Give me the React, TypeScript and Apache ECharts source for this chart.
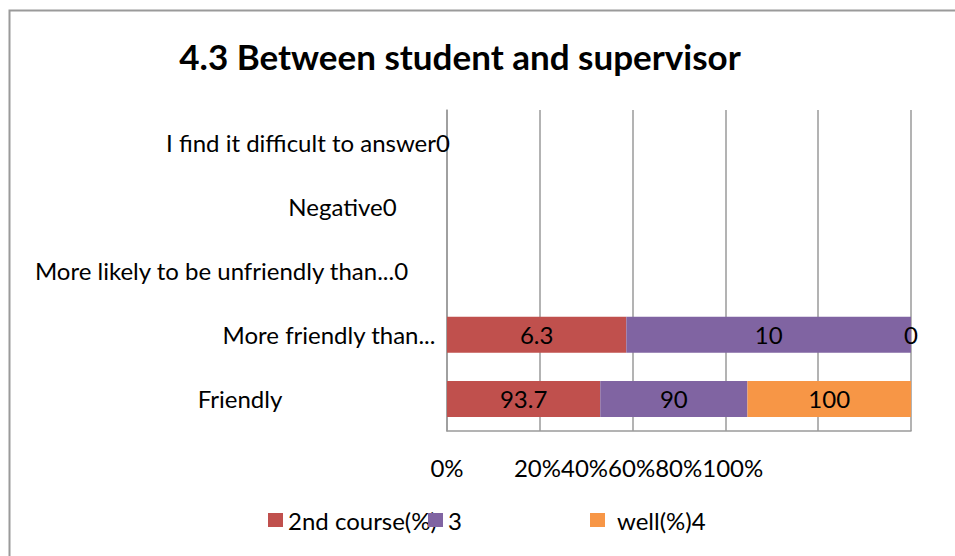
import React, { useEffect, useRef } from "react";
import * as echarts from "echarts";

// ---- data (bottom to top) ----
const categories = [
  "Friendly",
  "More friendly than...",
  "More likely to be unfriendly than...0",
  "Negative0",
  "I find it difficult to answer0",
];
const seriesNames = ["2nd course(%)", "3", "well(%)4"];
const course2 = [93.7, 6.3, 0, 0, 0];
const course3 = [90, 10, 0, 0, 0];
const well4 = [100, 0, 0, 0, 0];
const xTickLabels = ["0%", "20%", "40%", "60%", "80%", "100%"];

// ---- layout / style (kept apart from the data) ----
const colors = ["#C0504D", "#8064A2", "#F79646"];
const labelBoxWidths = [414, 236, 451, 209, 278];
const legendLefts = [268, 428, 590];
const legendTextPad = [0, 0, 7];
const FONT = "Lato";
const FS = 24;
const GRAY = "#9a9a9a";

export default function App() {
  const ref = useRef<HTMLDivElement>(null);

  useEffect(() => {
    document.body.style.margin = "0";
    if (!ref.current) return;
    const chart = echarts.init(ref.current, undefined, { renderer: "svg" });

    const raw = [course2, course3, well4];
    const totals = categories.map((_, i) => raw.reduce((s, arr) => s + arr[i], 0));

    const rich: Record<string, any> = {};
    labelBoxWidths.forEach((w, i) => {
      rich["c" + i] = { width: w, align: "center", fontSize: FS, fontFamily: FONT, color: "#000" };
    });

    const series = raw.map((arr, si) => ({
      name: seriesNames[si],
      type: "bar",
      stack: "total",
      barWidth: 36,
      itemStyle: { color: colors[si] },
      data: arr.map((v, i) => ({
        value: totals[i] > 0 ? (v / totals[i]) * 100 : 0,
        raw: v,
        label: { show: totals[i] > 0 },
      })),
      label: {
        show: true,
        position: "inside",
        color: "#000",
        fontSize: FS,
        fontFamily: FONT,
        formatter: (p: any) => String(p.data.raw),
      },
    }));

    chart.setOption({
      animation: false,
      title: {
        text: "4.3 Between student and supervisor",
        left: 455,
        top: 33,
        textAlign: "center",
        textStyle: { fontSize: 35, fontWeight: "bold", fontFamily: FONT, color: "#000" },
      },
      legend: seriesNames.map((n, i) => ({
        data: [n],
        left: legendLefts[i],
        top: 508,
        icon: "rect",
        itemWidth: 15,
        itemHeight: 14,
        padding: 0,
        selectedMode: false,
        textStyle: {
          fontSize: FS,
          fontFamily: FONT,
          color: "#000",
          padding: [0, 0, 0, legendTextPad[i]],
        },
      })),
      grid: { left: 447, right: 44, top: 110, bottom: 125, containLabel: false },
      xAxis: {
        type: "value",
        min: 0,
        max: 100,
        interval: 20,
        axisLine: { show: true, lineStyle: { color: GRAY, width: 1.5 } },
        axisTick: { show: false },
        splitLine: { show: true, lineStyle: { color: GRAY, width: 1.5 } },
        axisLabel: {
          margin: 24,
          color: "#000",
          fontSize: FS,
          fontFamily: FONT,
          formatter: (v: number) => {
            if (v === 0) return xTickLabels[0];
            if (v === 40) return "{s|" + xTickLabels.slice(1).join("") + "}";
            return "";
          },
          rich: { s: { padding: [0, 0, 0, 12], fontSize: FS, fontFamily: FONT, color: "#000" } },
        },
      },
      yAxis: {
        type: "category",
        data: categories,
        axisLine: { show: true, lineStyle: { color: GRAY, width: 1.5 } },
        axisTick: { show: false },
        splitLine: { show: false },
        axisLabel: {
          interval: 0,
          margin: 0,
          align: "right",
          formatter: (v: string, idx: number) => "{c" + idx + "|" + v + "}",
          rich,
        },
      },
      graphic: [
        {
          type: "rect",
          silent: true,
          shape: { x: 9.5, y: 10.5, width: 1000, height: 600 },
          style: { fill: "none", stroke: GRAY, lineWidth: 2 },
        },
      ],
      series,
    });

    return () => chart.dispose();
  }, []);

  return <div ref={ref} style={{ width: 955, height: 556 }} />;
}
